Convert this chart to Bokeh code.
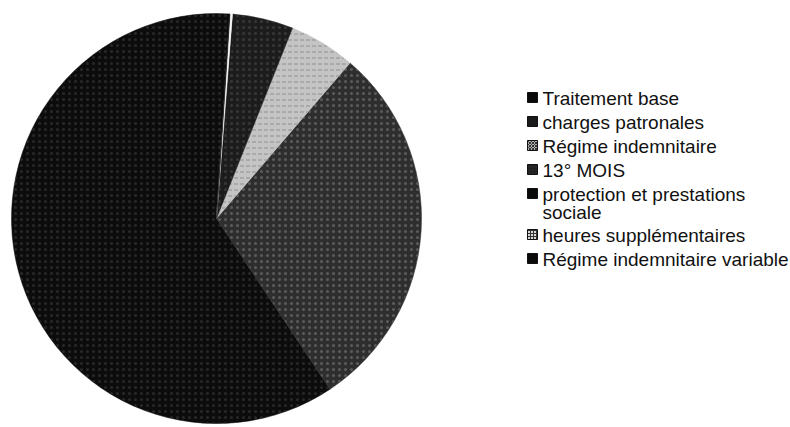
import math
from bokeh.plotting import figure
from bokeh.models import Range1d, ColumnDataSource
from bokeh.core.properties import value
from bokeh.embed import file_html
from bokeh.resources import INLINE

# ---- data ----
categories = [
    "Traitement base",
    "charges patronales",
    "Régime indemnitaire",
    "13° MOIS",
    "protection et prestations\nsociale",
    "heures supplémentaires",
    "Régime indemnitaire variable",
]
shares = [60.4, 29.4, 5.25, 4.7, 0.1, 0.2, 0.05]
colors = ["#0c0c0c", "#2e2e2e", "#c4c4c4", "#1c1c1c", "#050505", "#f4f4f4", "#080808"]
hatches = ["dot", "dot", "horizontal_dash", "dot", " ", " ", " "]
hatch_colors = ["#3a3a3a", "#7a7a7a", "#6a6a6a", "#4a4a4a", "#000000", "#000000", "#000000"]

W, H = 790, 427
p = figure(width=W, height=H, output_backend="svg", toolbar_location=None,
           x_range=Range1d(0, W), y_range=Range1d(427 - H, 427),
           min_border=0)
p.axis.visible = False
p.xgrid.visible = False
p.ygrid.visible = False
p.outline_line_color = None
p.background_fill_color = "white"
p.border_fill_color = "white"

# pie geometry (screen px -> data: y = 427 - screen_y)
cx, cy, r = 216, 427 - 218, 205
start0 = math.radians(86.4)
total = sum(shares)
starts, ends = [], []
acc = start0
for s in shares:
    starts.append(acc)
    acc += s / total * 2 * math.pi
    ends.append(acc)

src = ColumnDataSource(dict(start=starts, end=ends, color=colors,
                            hatch=hatches, hcol=hatch_colors))
p.wedge(x=cx, y=cy, radius=r, start_angle="start", end_angle="end",
        fill_color="color", line_color="color", line_width=0.5,
        hatch_pattern="hatch", hatch_color="hcol", hatch_scale=6,
        hatch_alpha=0.6, source=src)

# legend
row_y = []
y = 97
for lab in categories:
    row_y.append(y)
    y += 24 + 17 * lab.count("\n")
sq = 10
lx = 532
tx = 542
leg_src = ColumnDataSource(dict(
    x=[lx] * len(categories),
    y=[427 - v for v in row_y],
    tx=[tx] * len(categories),
    label=categories,
    color=["#0a0a0a", "#1a1a1a", "#b0b0b0", "#202020", "#0a0a0a", "#d8d8d8", "#0a0a0a"],
    hatch=[" ", " ", "diagonal_cross", "dot", " ", "cross", " "],
))
p.rect(x="x", y="y", width=sq, height=sq, fill_color="color", line_color="#111111",
       line_width=1, hatch_pattern="hatch", hatch_color="#333333", hatch_scale=3,
       source=leg_src)
p.text(x="tx", y="y", text="label", text_font=value("Liberation Sans"),
       text_font_size="19px", text_color="#111111", text_baseline="top",
       text_align="left", y_offset=-10, text_line_height=0.9, source=leg_src)

open("out.html", "w").write(file_html(p, INLINE))
